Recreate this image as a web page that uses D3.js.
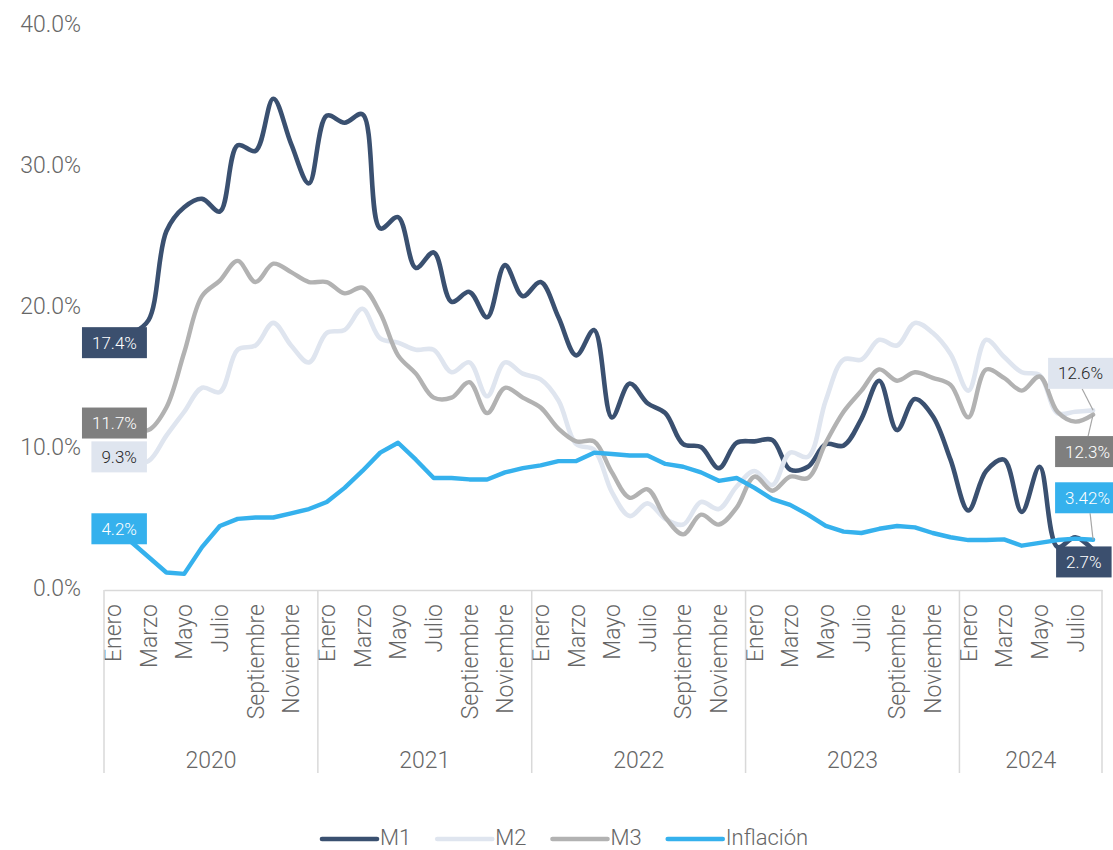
<!DOCTYPE html>
<html lang="es">
<head>
<meta charset="utf-8">
<title>Agregados monetarios e inflación</title>
<script src="https://cdn.jsdelivr.net/npm/d3@7"></script>
<style>
  html, body { margin: 0; padding: 0; background: #ffffff; }
  svg { display: block; font-family: Roboto, "Noto Sans", sans-serif; }
</style>
</head>
<body>
<svg id="chart" width="1113" height="850"></svg>
<script>
// Monthly series, Jan 2020 – Aug 2024 (year-on-year %, monthly)
const monthNames = ["Enero", "Febrero", "Marzo", "Abril", "Mayo", "Junio",
  "Julio", "Agosto", "Septiembre", "Octubre", "Noviembre", "Diciembre"];
const years = [2020, 2021, 2022, 2023, 2024];
const monthsInYear = [12, 12, 12, 12, 8];
const yTicks = [0, 10, 20, 30, 40];

const m1 = [
  17.4, 18.0, 19.0, 25.3, 27.0, 27.6, 26.7, 31.4, 31.0, 34.7, 31.5, 28.7,
  33.5, 33.0, 33.6, 25.5, 26.3, 22.7, 23.8, 20.3, 21.0, 19.2, 22.9, 20.7,
  21.7, 19.2, 16.5, 18.3, 12.1, 14.5, 13.1, 12.4, 10.2, 10.0, 8.5, 10.3,
  10.4, 10.5, 8.4, 8.6, 10.2, 10.1, 12.0, 14.7, 11.2, 13.4, 12.2, 9.1,
  5.5, 8.3, 9.1, 5.4, 8.6, 2.9, 3.6, 2.7
];
const m2 = [
  9.3, 8.9, 9.0, 10.8, 12.5, 14.2, 13.9, 16.9, 17.2, 18.8, 17.2, 16.0,
  18.1, 18.3, 19.8, 17.7, 17.4, 16.9, 16.9, 15.3, 16.0, 13.6, 16.0, 15.2,
  14.8, 13.3, 10.2, 9.8, 6.8, 5.1, 6.0, 4.9, 4.5, 6.1, 5.6, 7.2,
  8.3, 7.3, 9.6, 9.3, 13.3, 16.2, 16.2, 17.6, 17.2, 18.8, 18.1, 16.6,
  14.0, 17.6, 16.4, 15.3, 15.1, 12.4, 12.5, 12.6
];
const m3 = [
  11.7, 11.3, 11.2, 12.8, 16.7, 20.7, 21.8, 23.2, 21.7, 23.0, 22.4, 21.7,
  21.7, 20.9, 21.3, 19.5, 16.5, 15.2, 13.5, 13.5, 14.6, 12.4, 14.2, 13.5,
  12.8, 11.3, 10.4, 10.4, 8.2, 6.4, 7.0, 5.0, 3.8, 5.2, 4.5, 5.7,
  7.9, 6.9, 7.9, 7.8, 10.3, 12.5, 14.0, 15.5, 14.7, 15.3, 14.9, 14.4,
  12.1, 15.5, 14.9, 14.0, 15.0, 12.5, 11.8, 12.3
];
const inflacion = [
  4.2, 3.3, 2.2, 1.1, 1.0, 2.9, 4.4, 4.9, 5.0, 5.0, 5.3, 5.6,
  6.1, 7.1, 8.3, 9.6, 10.3, 9.1, 7.8, 7.8, 7.7, 7.7, 8.2, 8.5,
  8.7, 9.0, 9.0, 9.6, 9.5, 9.4, 9.4, 8.8, 8.6, 8.2, 7.6, 7.8,
  7.1, 6.3, 5.9, 5.2, 4.4, 4.0, 3.9, 4.2, 4.4, 4.3, 3.9, 3.6,
  3.4, 3.4, 3.45, 3.0, 3.2, 3.4, 3.5, 3.42
];

// Series styling and label placement
const series = [
  { name: "M1", values: m1, color: "#3a5070", boxFill: "#3b4f6e", boxText: "#ffffff", width: 4.6, smooth: true,
    first: { decimals: 1 }, last: { decimals: 1, dx: -37, dy: 12, leader: null } },
  { name: "M2", values: m2, color: "#dfe5ef", boxFill: "#dfe5ef", boxText: "#262626", width: 4.6, smooth: true,
    first: { decimals: 1 }, last: { decimals: 1, dx: -45, dy: -37, leader: { x: -11, edge: "bottom" } } },
  { name: "M3", values: m3, color: "#b2b2b2", boxFill: "#7f7f7f", boxText: "#ffffff", width: 4.4, smooth: true,
    first: { decimals: 1 }, last: { decimals: 1, dx: -38, dy: 37, leader: { x: -5, edge: "top" } } },
  { name: "Inflación", values: inflacion, color: "#35b1ed", boxFill: "#35b1ed", boxText: "#ffffff", width: 4.4, smooth: false,
    first: { decimals: 1 }, last: { decimals: 2, dx: -38, dy: -42, leader: { x: -3, edge: "bottom" } } }
];

// Flatten the period list
const periods = [];
years.forEach((yr, yi) => {
  for (let m = 0; m < monthsInYear[yi]; m++) periods.push({ year: yr, month: m });
});
const idx = d3.range(periods.length);

const svg = d3.select("#chart");
const plotLeft = 104, plotRight = 1102, plotTop = 24, plotBottom = 588;
const axisY = 590, groupBottom = 773;

const x = d3.scaleBand().domain(idx).range([plotLeft, plotRight]).paddingInner(0).paddingOuter(0);
const xc = i => x(i) + x.bandwidth() / 2;
const y = d3.scaleLinear().domain([0, 40]).range([plotBottom, plotTop]);

const textColor = "#666666";
const axisFont = 23;

// Y axis (labels only)
const yAxis = d3.axisLeft(y).tickValues(yTicks).tickSize(0).tickPadding(23)
  .tickFormat(d => d3.format(".1f")(d) + "%");
const gy = svg.append("g").attr("transform", `translate(${plotLeft},0)`).call(yAxis);
gy.select(".domain").remove();
gy.selectAll("text").attr("fill", textColor).style("font-size", axisFont + "px")
  .style("font-weight", 300).style("font-family", "Roboto, sans-serif");

// X axis: months every other month, rotated
const xAxis = d3.axisBottom(x)
  .tickValues(idx.filter(i => periods[i].month % 2 === 0))
  .tickSize(0).tickPadding(0)
  .tickFormat(i => monthNames[periods[i].month]);
const gx = svg.append("g").attr("transform", `translate(0,${axisY})`).call(xAxis);
gx.select(".domain").attr("stroke", "#d9d9d9").attr("stroke-width", 1.5);
gx.selectAll("text")
  .attr("fill", textColor).style("font-size", axisFont + "px")
  .style("font-weight", 300).style("font-family", "Roboto, sans-serif")
  .attr("transform", "rotate(-90)")
  .attr("x", -14).attr("y", 0).attr("dy", "0.36em")
  .attr("text-anchor", "end");

// Year groups: separators and labels
let start = 0;
const bounds = [];
years.forEach((yr, yi) => {
  const s = start, e = start + monthsInYear[yi] - 1;
  bounds.push({ year: yr, x0: x(s), x1: x(e) + x.bandwidth() });
  start += monthsInYear[yi];
});
const sepXs = [bounds[0].x0].concat(bounds.map(b => b.x1));
svg.append("g").selectAll("line").data(sepXs).join("line")
  .attr("x1", d => d).attr("x2", d => d)
  .attr("y1", axisY).attr("y2", groupBottom)
  .attr("stroke", "#d9d9d9").attr("stroke-width", 1.5);
svg.append("g").selectAll("text").data(bounds).join("text")
  .attr("x", d => (d.x0 + d.x1) / 2).attr("y", 760).attr("dy", "0.36em")
  .attr("text-anchor", "middle").attr("fill", textColor)
  .style("font-size", axisFont + "px").style("font-weight", 300)
  .text(d => d.year);

// Lines
const lineSmooth = d3.line().x((d, i) => xc(i)).y(d => y(d)).curve(d3.curveCatmullRom.alpha(0.5));
const lineStraight = d3.line().x((d, i) => xc(i)).y(d => y(d)).curve(d3.curveLinear);
const gLines = svg.append("g");
series.forEach(s => {
  gLines.append("path")
    .attr("d", (s.smooth ? lineSmooth : lineStraight)(s.values))
    .attr("fill", "none").attr("stroke", s.color).attr("stroke-width", s.width)
    .attr("stroke-linejoin", "round").attr("stroke-linecap", "round");
});

// Data labels
const gLabels = svg.append("g");
const labelFont = 17, padX = 10, boxH = 31;
function drawLabel(s, text, anchorX, cy, align) {
  const g = gLabels.append("g");
  const rect = g.append("rect").attr("fill", s.boxFill);
  const t = g.append("text").text(text)
    .attr("fill", s.boxText).style("font-size", labelFont + "px").style("font-weight", 300)
    .attr("dy", "0.36em").attr("text-anchor", "middle");
  const w = t.node().getComputedTextLength() + padX * 2;
  const x0 = align === "right" ? anchorX - w : anchorX;
  rect.attr("x", x0).attr("y", cy - boxH / 2).attr("width", w).attr("height", boxH);
  t.attr("x", x0 + w / 2).attr("y", cy);
  return { x0, w, top: cy - boxH / 2, bottom: cy + boxH / 2 };
}
const lastI = periods.length - 1;
series.forEach(s => {
  const v0 = s.values[0];
  drawLabel(s, v0.toFixed(s.first.decimals) + "%", xc(0) + 34, y(v0), "right");
  const vn = s.values[lastI];
  const px = xc(lastI), py = y(vn);
  const box = drawLabel(s, vn.toFixed(s.last.decimals) + "%", px + s.last.dx, py + s.last.dy, "left");
  if (s.last.leader) {
    const ly = s.last.leader.edge === "bottom" ? box.bottom : box.top;
    gLabels.insert("line", ":first-child")
      .attr("x1", px + s.last.leader.x).attr("y1", ly)
      .attr("x2", px).attr("y2", py)
      .attr("stroke", "#a6a6a6").attr("stroke-width", 1.2);
  }
});

// Legend
const legend = svg.append("g").attr("transform", "translate(322,837)");
let lx = 0;
series.forEach(s => {
  const it = legend.append("g").attr("transform", `translate(${lx},0)`);
  it.append("line").attr("x1", 0).attr("x2", 55).attr("y1", 2).attr("y2", 2)
    .attr("stroke", s.color).attr("stroke-width", 4.6).attr("stroke-linecap", "round");
  const t = it.append("text").attr("x", 58).attr("y", 0).attr("dy", "0.36em")
    .attr("fill", textColor).style("font-size", "22px").style("font-weight", 300)
    .text(s.name);
  lx += 58 + t.node().getComputedTextLength() + 26;
});
</script>
</body>
</html>
